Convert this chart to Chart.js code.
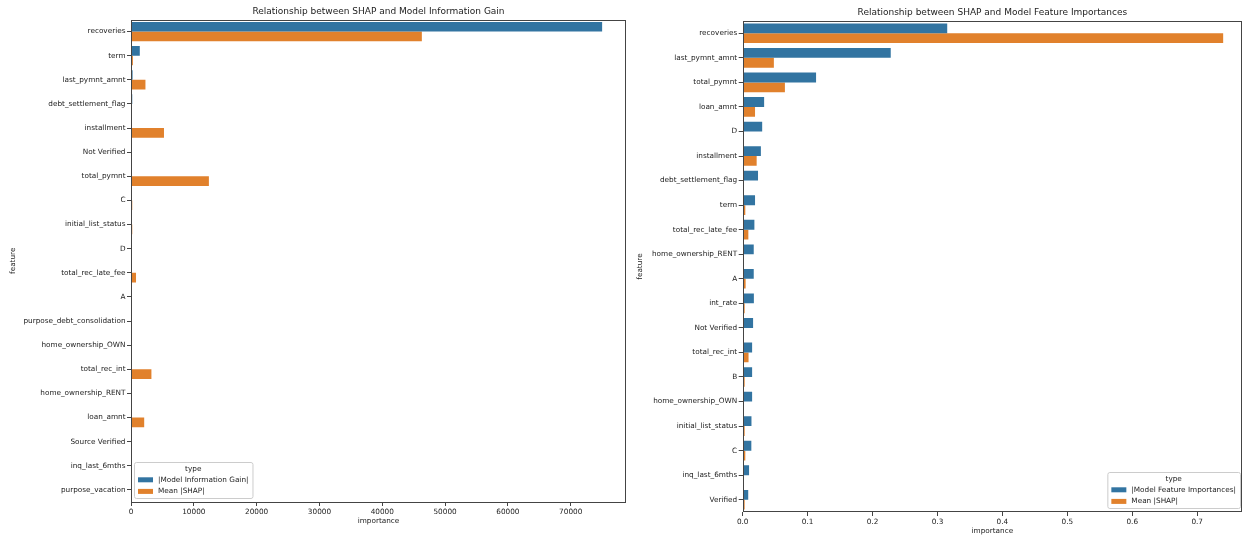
<!DOCTYPE html>
<html>
<head>
<meta charset="utf-8">
<script src="https://cdn.jsdelivr.net/npm/chart.js@4/dist/chart.umd.min.js"></script>
<style>
  html, body { margin: 0; padding: 0; background: #fff; }
  #wrap { position: relative; width: 1243px; height: 535px; }
  #left { position: absolute; left: 0; top: 0; }
  #right { position: absolute; left: 630px; top: 0; }
</style>
</head>
<body>
<div id="wrap">
  <canvas id="left" width="630" height="535"></canvas>
  <canvas id="right" width="613" height="535"></canvas>
</div>
<script>
// ---- left panel: information gain vs mean |SHAP| ----
const gainFeatures = ['recoveries', 'term', 'last_pymnt_amnt', 'debt_settlement_flag', 'installment',
  'Not Verified', 'total_pymnt', 'C', 'initial_list_status', 'D', 'total_rec_late_fee', 'A',
  'purpose_debt_consolidation', 'home_ownership_OWN', 'total_rec_int', 'home_ownership_RENT',
  'loan_amnt', 'Source Verified', 'inq_last_6mths', 'purpose_vacation'];
const gainValues = [75000, 1400, 250, 200, 90, 80, 70, 60, 55, 50, 45, 40, 35, 30, 28, 25, 22, 20, 18, 15];
const gainShap = [46300, 300, 2300, 60, 5250, 40, 12400, 200, 200, 60, 800, 160, 150, 140, 3250, 150, 2100, 150, 60, 40];
const gainTicks = [0, 10000, 20000, 30000, 40000, 50000, 60000, 70000];

// ---- right panel: feature importances vs mean |SHAP| ----
const impFeatures = ['recoveries', 'last_pymnt_amnt', 'total_pymnt', 'loan_amnt', 'D', 'installment',
  'debt_settlement_flag', 'term', 'total_rec_late_fee', 'home_ownership_RENT', 'A', 'int_rate',
  'Not Verified', 'total_rec_int', 'B', 'home_ownership_OWN', 'initial_list_status', 'C',
  'inq_last_6mths', 'Verified'];
const impValues = [0.315, 0.228, 0.113, 0.033, 0.030, 0.028, 0.0236, 0.019, 0.018, 0.017, 0.017, 0.0172,
  0.016, 0.0145, 0.0145, 0.0145, 0.0135, 0.0133, 0.0098, 0.0085];
const impShap = [0.740, 0.048, 0.065, 0.019, 0.001, 0.0215, 0.001, 0.004, 0.0087, 0.001, 0.0045, 0.003,
  0.001, 0.009, 0.003, 0.001, 0.003, 0.004, 0.001, 0.003];
const impTicks = [0, 0.1, 0.2, 0.3, 0.4, 0.5, 0.6, 0.7];

const BLUE = '#3274a1';
const ORANGE = '#e1812c';
const FONT = '"DejaVu Sans", sans-serif';
const TEXT = '#222';

// spines on all four sides, title over the plot area, boxed legend with a title
const framePlugin = {
  id: 'frame',
  afterDraw(chart, args, opts) {
    const { ctx, chartArea: a } = chart;
    ctx.save();
    ctx.strokeStyle = '#444';
    ctx.lineWidth = 1;
    ctx.strokeRect(Math.round(a.left) + 0.5, Math.round(a.top) + 0.5,
      Math.round(a.right - a.left) - 1, Math.round(a.bottom - a.top) - 1);

    ctx.fillStyle = TEXT;
    ctx.font = '9px ' + FONT;
    ctx.textAlign = 'center';
    ctx.textBaseline = 'middle';
    ctx.fillText(opts.title, (a.left + a.right) / 2, opts.titleY);

    // legend
    ctx.font = '7.3px ' + FONT;
    let items = chart.data.datasets.map(d => ({ label: d.label, color: d.backgroundColor }));
    let tw = Math.max(...items.map(i => ctx.measureText(i.label).width));
    let w = 4 + 15 + 5 + tw + 4;
    let h = 36;
    let x = opts.legendSide === 'left' ? a.left + 3 : a.right - 2 - w;
    let y = a.bottom - 4 - h;
    ctx.beginPath();
    ctx.roundRect(x + 0.5, y + 0.5, w, h, 2);
    ctx.fillStyle = 'rgba(255,255,255,0.8)';
    ctx.fill();
    ctx.strokeStyle = '#cccccc';
    ctx.stroke();
    ctx.fillStyle = TEXT;
    ctx.textAlign = 'center';
    ctx.fillText('type', x + w / 2, y + 7.2);
    ctx.textAlign = 'left';
    items.forEach((it, i) => {
      let cy = y + 17.8 + i * 11.6;
      ctx.fillStyle = it.color;
      ctx.fillRect(x + 4, cy - 2.5, 15, 5);
      ctx.fillStyle = TEXT;
      ctx.fillText(it.label, x + 24, cy);
    });
    ctx.restore();
  }
};

function makeChart(el, cfg) {
  return new Chart(el, {
    type: 'bar',
    data: {
      labels: cfg.labels,
      datasets: [
        { label: cfg.names[0], data: cfg.first, backgroundColor: BLUE },
        { label: cfg.names[1], data: cfg.second, backgroundColor: ORANGE }
      ]
    },
    options: {
      indexAxis: 'y',
      responsive: false,
      animation: false,
      categoryPercentage: 0.8,
      barPercentage: 1.0,
      layout: { padding: cfg.padding },
      plugins: {
        legend: { display: false },
        title: { display: false },
        tooltip: { enabled: false },
        frame: { title: cfg.title, titleY: cfg.titleY, legendSide: cfg.legendSide }
      },
      scales: {
        x: {
          type: 'linear',
          min: 0,
          max: cfg.xMax,
          afterBuildTicks: s => { s.ticks = cfg.ticks.map(v => ({ value: v })); },
          afterFit: s => { s.height = cfg.xHeight; },
          border: { display: false },
          grid: { display: true, drawOnChartArea: false, drawTicks: true, tickLength: 4, color: '#444' },
          ticks: {
            padding: 1.5,
            color: TEXT,
            font: { family: FONT, size: 7.3 },
            maxRotation: 0,
            autoSkip: false,
            callback: cfg.fmt
          },
          title: { display: true, text: 'importance', color: TEXT, padding: 0, font: { family: FONT, size: 7.3 } }
        },
        y: {
          type: 'category',
          afterFit: s => { s.width = cfg.yWidth; },
          border: { display: false },
          grid: { display: true, offset: false, drawOnChartArea: false, drawTicks: true, tickLength: 4, color: '#444' },
          ticks: { padding: 1.5, color: TEXT, font: { family: FONT, size: 7.3 }, autoSkip: false },
          title: { display: true, text: 'feature', color: TEXT, padding: cfg.yTitlePad, font: { family: FONT, size: 7.3 } }
        }
      }
    },
    plugins: [framePlugin]
  });
}

makeChart(document.getElementById('left'), {
  labels: gainFeatures,
  first: gainValues,
  second: gainShap,
  ticks: gainTicks,
  names: ['|Model Information Gain|', 'Mean |SHAP|'],
  title: 'Relationship between SHAP and Model Information Gain',
  titleY: 12,
  legendSide: 'left',
  padding: { top: 19.5, bottom: 10, left: 0, right: 4 },
  xMax: 78800,
  fmt: v => String(v),
  xHeight: 23,
  yWidth: 131,
  yTitlePad: 8.5
});

makeChart(document.getElementById('right'), {
  labels: impFeatures,
  first: impValues,
  second: impShap,
  ticks: impTicks,
  names: ['|Model Feature Importances|', 'Mean |SHAP|'],
  title: 'Relationship between SHAP and Model Feature Importances',
  titleY: 13,
  legendSide: 'right',
  padding: { top: 21, bottom: 0, left: 0, right: 1 },
  xMax: 0.769,
  fmt: v => Number(v).toFixed(1),
  xHeight: 23,
  yWidth: 112.7,
  yTitlePad: 5.5
});
</script>
</body>
</html>
